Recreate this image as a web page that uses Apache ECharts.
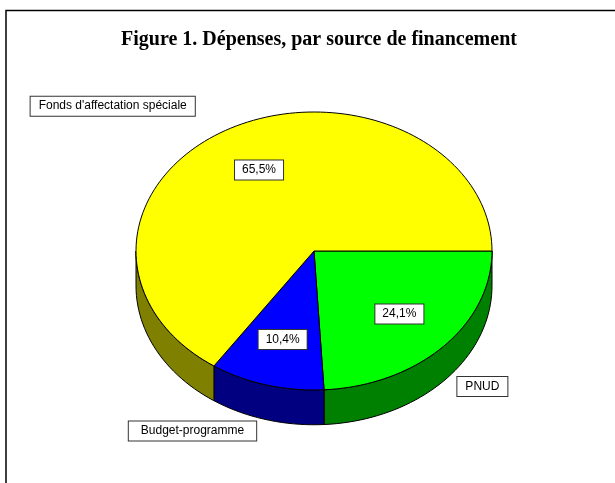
<!DOCTYPE html>
<html>
<head>
<meta charset="utf-8">
<script src="https://cdn.jsdelivr.net/npm/echarts@6/dist/echarts.min.js"></script>
<style>
  html, body { margin: 0; padding: 0; background: #fff; }
  #chart { width: 615px; height: 483px; }
</style>
</head>
<body>
<div id="chart"></div>
<script>
// slices, clockwise from 3 o'clock (Excel 3D pie order)
const categories = ["PNUD", "Budget-programme", "Fonds d'affectation spéciale"];
const shares = [24.1, 10.4, 65.5];
const shareLabels = ["24,1%", "10,4%", "65,5%"];

const topColors = ["#00ff00", "#0000ff", "#ffff00"];
const sideColors = ["#008000", "#000080", "#808000"];
// pixel nudge of the category boxes from the rim point at mid-angle
const outerOffset = {
  "PNUD": [39, 40],
  "Budget-programme": [-74, 46],
  "Fonds d'affectation spéciale": [-118, -22],
};
const outerPad = {
  "PNUD": [4, 8, 3, 8],
  "Budget-programme": [4, 12, 3, 12],
  "Fonds d'affectation spéciale": [4, 8, 3, 8],
};
const DEPTH = 0.25; // wall height, in y units of the ellipse
const INNER_R = 0.66;

const total = shares.reduce((s, v) => s + v, 0);
let acc = 0;
const sliceData = shares.map((v, i) => {
  const a0 = (acc / total) * Math.PI * 2;
  acc += v;
  const a1 = (acc / total) * Math.PI * 2;
  return { name: categories[i], value: [a0, a1, v] };
});

function arc(api, a0, a1, dy) {
  const pts = [];
  const n = Math.max(2, Math.ceil((a1 - a0) / (Math.PI / 90)));
  for (let k = 0; k <= n; k++) {
    const a = a0 + ((a1 - a0) * k) / n;
    pts.push(api.coord([Math.cos(a), Math.sin(a) + dy]));
  }
  return pts;
}

const boxText = {
  fontFamily: "Liberation Sans, Arial, sans-serif",
  fontSize: 12,
  fill: "#000",
  backgroundColor: "#fff",
  borderColor: "#333",
  borderWidth: 1,
  align: "center",
  verticalAlign: "middle",
};

function renderSlice(params, api) {
  const i = params.dataIndex;
  const a0 = api.value(0);
  const a1 = api.value(1);
  const children = [];

  // front wall (only the part facing the viewer, 0..PI)
  const w0 = Math.max(a0, 0);
  const w1 = Math.min(a1, Math.PI);
  if (w1 > w0) {
    const top = arc(api, w0, w1, 0);
    const bottom = arc(api, w0, w1, DEPTH).reverse();
    children.push({
      type: "polygon",
      z2: 1,
      shape: { points: top.concat(bottom) },
      style: { fill: sideColors[i], stroke: "#000", lineWidth: 1 },
    });
  }

  // top face
  const face = [api.coord([0, 0])].concat(arc(api, a0, a1, 0));
  children.push({
    type: "polygon",
    z2: 2,
    shape: { points: face },
    style: { fill: topColors[i], stroke: "#000", lineWidth: 1 },
  });

  const mid = (a0 + a1) / 2;
  const inner = api.coord([INNER_R * Math.cos(mid), INNER_R * Math.sin(mid)]);
  children.push({
    type: "text",
    z2: 5,
    x: inner[0],
    y: inner[1],
    style: Object.assign({}, boxText, { text: shareLabels[i], padding: [4, 7, 3, 7] }),
  });

  const rim = api.coord([Math.cos(mid), Math.sin(mid)]);
  const off = outerOffset[categories[i]];
  children.push({
    type: "text",
    z2: 5,
    x: rim[0] + off[0],
    y: rim[1] + off[1],
    style: Object.assign({}, boxText, { text: categories[i], padding: outerPad[categories[i]] }),
  });

  return { type: "group", children };
}

const chart = echarts.init(document.getElementById("chart"));
chart.setOption({
  animation: false,
  title: {
    text: "Figure 1. Dépenses, par source de financement",
    left: 314,
    top: 25,
    textAlign: "center",
    textStyle: {
      fontFamily: "Liberation Serif, Times New Roman, serif",
      fontWeight: "bold",
      fontSize: 20,
      color: "#000",
    },
  },
  grid: { left: 136, top: 112, width: 356, height: 278 },
  xAxis: { type: "value", min: -1, max: 1, show: false },
  yAxis: { type: "value", min: -1, max: 1, inverse: true, show: false },
  graphic: [
    {
      type: "polyline",
      shape: { points: [[6, 483], [6, 10.5], [615, 10.5]] },
      style: { stroke: "#000", lineWidth: 1.5, fill: null },
    },
  ],
  series: [
    {
      type: "custom",
      clip: false,
      renderItem: renderSlice,
      data: sliceData,
    },
  ],
});
</script>
</body>
</html>
